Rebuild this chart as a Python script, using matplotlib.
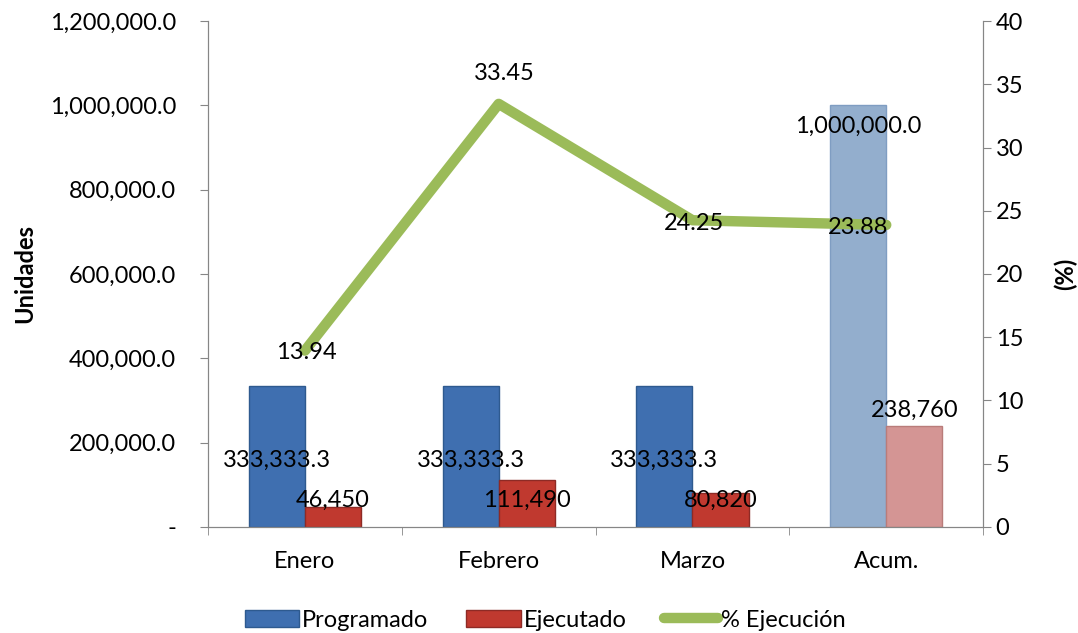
import numpy as np
import matplotlib.pyplot as plt
from matplotlib.ticker import FuncFormatter, MultipleLocator
from matplotlib.lines import Line2D
from matplotlib.patches import Patch

plt.rcParams['font.family'] = ['Lato', 'DejaVu Sans']

categories = ["Enero", "Febrero", "Marzo", "Acum."]
programado = [333333.3, 333333.3, 333333.3, 1000000.0]
ejecutado = [46450, 111490, 80820, 238760]
pct_ejecucion = [13.94, 33.45, 24.25, 23.88]

prog_labels = ["333,333.3", "333,333.3", "333,333.3", "1,000,000.0"]
ejec_labels = ["46,450", "111,490", "80,820", "238,760"]

BLUE, BLUE_LT = "#3F6FB0", "#93AECD"
RED, RED_LT = "#C0392F", "#D49594"
GREEN = "#9BBB59"
AXIS_GRAY = "#868686"
FS = 17

fig = plt.figure(figsize=(10.78, 6.33), dpi=100)
ax = fig.add_axes([0.193, 0.1675, 0.719, 0.7993])
ax2 = ax.twinx()

x = np.arange(len(categories))
w = 0.29
blue_cols = [BLUE, BLUE, BLUE, BLUE_LT]
red_cols = [RED, RED, RED, RED_LT]
ax.bar(x - w / 2, programado, w, color=blue_cols, edgecolor=["#2E5A8F"] * 3 + ["#7F9DC2"],
       linewidth=1.0, zorder=2)
ax.bar(x + w / 2, ejecutado, w, color=red_cols, edgecolor=["#8E2A25"] * 3 + ["#B97C7A"],
       linewidth=1.0, zorder=2)

ax.set_ylim(0, 1200000)
ax.set_xlim(-0.5, 3.5)
ax.yaxis.set_major_locator(MultipleLocator(200000))
ax.yaxis.set_major_formatter(FuncFormatter(lambda v, p: "-" if v == 0 else f"{v:,.1f}"))
ax.set_xticks(x)
ax.set_xticklabels(categories)
ax.set_xticks(np.arange(-0.5, 4.0, 1.0), minor=True)
ax.tick_params(axis="x", which="major", length=0, pad=17, labelsize=FS)
ax.tick_params(axis="x", which="minor", length=6, color=AXIS_GRAY, direction="out")
ax.tick_params(axis="y", length=6, color=AXIS_GRAY, labelsize=FS, pad=17)
ax.set_ylabel("Unidades", fontsize=FS, fontweight="bold", labelpad=10)

ax2.set_ylim(0, 40)
ax2.yaxis.set_major_locator(MultipleLocator(5))
ax2.tick_params(axis="y", length=6, color=AXIS_GRAY, labelsize=FS, pad=3)
ax2.set_ylabel("(%)", fontsize=FS, fontweight="bold", labelpad=22)
ax2.plot(x, pct_ejecucion, color=GREEN, linewidth=7.5, solid_capstyle="round",
         solid_joinstyle="round", zorder=4)

for a in (ax, ax2):
    a.spines["top"].set_visible(False)
    for s in ("left", "right", "bottom"):
        a.spines[s].set_color(AXIS_GRAY)
ax.set_zorder(ax2.get_zorder() - 1)
ax.patch.set_visible(False)

# bar labels: centered on each bar; months at fixed heights, Acum. near the top
prog_y = [159000, 159000, 159000, 951000]
for xi, yv, lab in zip(x - w / 2, prog_y, prog_labels):
    ax.text(xi, yv, lab, ha="center", va="center", fontsize=FS, zorder=6)
ejec_y = [64000, 64000, 64000, 277000]
for xi, yv, lab in zip(x + w / 2, ejec_y, ejec_labels):
    ax.text(xi, yv, lab, ha="center", va="center", fontsize=FS, zorder=6)

pct_off = [(1, -1), (4, 22), (1, -2), (-20, -2)]
for xi, v, (dx, dy) in zip(x, pct_ejecucion, pct_off):
    ax2.annotate(f"{v:.2f}", (xi, v), xytext=(dx, dy), textcoords="offset points",
                 ha="center", va="center", fontsize=FS, zorder=6)

handles = [Patch(facecolor=BLUE, edgecolor="#2E5A8F"),
           Patch(facecolor=RED, edgecolor="#8E2A25"),
           Line2D([0], [0], color=GREEN, linewidth=7.5, solid_capstyle="round")]
fig.legend(handles, ["Programado", "Ejecutado", "% Ejecución"], loc="lower center",
           bbox_to_anchor=(0.506, -0.03), ncol=3, frameon=False, fontsize=FS,
           handlelength=2.3, handletextpad=0.12, columnspacing=1.6)

fig.savefig("out.png", dpi=100)
